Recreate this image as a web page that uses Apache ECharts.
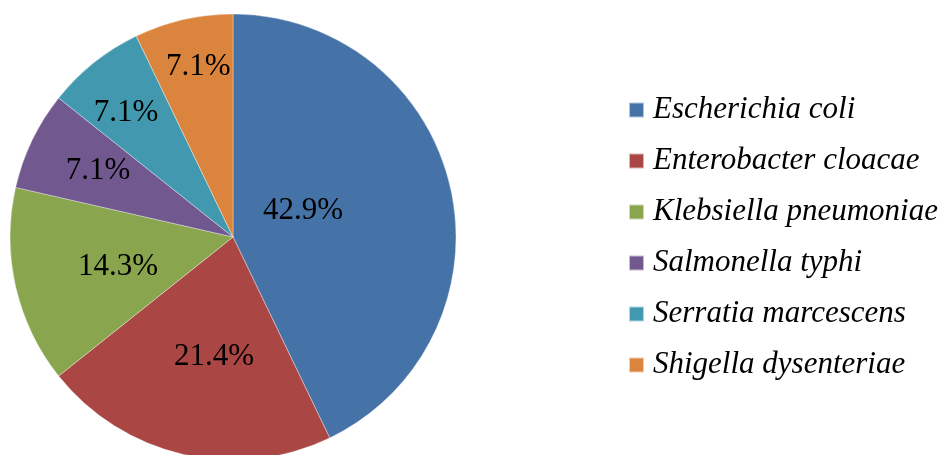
<!DOCTYPE html>
<html>
<head>
<meta charset="utf-8">
<script src="https://cdn.jsdelivr.net/npm/echarts@6/dist/echarts.min.js"></script>
<style>html,body{margin:0;padding:0;background:#fff;}#c{width:947px;height:455px;}</style>
</head>
<body>
<div id="c"></div>
<script>
var categories = ['Escherichia coli','Enterobacter cloacae','Klebsiella pneumoniae','Salmonella typhi','Serratia marcescens','Shigella dysenteriae'];
var values = [6, 3, 2, 1, 1, 1];
var colors = ['#4572A7','#AA4643','#89A54E','#71588F','#4198AF','#DB843D'];

var CX = 233, CY = 237, R = 223;
// label placement (layout only): radial fraction and angular shift (deg) from slice middle
var labelFrac = [0.335, 0.545, 0.533, 0.674, 0.735, 0.778];
var labelShift = [-7.5, -3.9, -1.7, 0.4, -2.2, 1.3];
var total = values.reduce(function(a,b){return a+b;},0);
var SERIF = "'Liberation Serif', 'Times New Roman', serif";

var chart = echarts.init(document.getElementById('c'));
chart.setOption({
  animation: false,
  color: colors,
  textStyle: { fontFamily: SERIF },
  legend: {
    orient: 'vertical',
    left: 623,
    top: 88,
    itemWidth: 15,
    itemHeight: 15,
    itemGap: 17,
    icon: 'rect',
    selectedMode: false,
    textStyle: {
      fontFamily: SERIF,
      fontStyle: 'italic',
      fontSize: 31,
      lineHeight: 34,
      color: '#000',
      padding: [0,0,0,4]
    },
    data: categories
  },
  series: [{
    type: 'pie',
    center: [CX, CY],
    radius: R,
    startAngle: 90,
    clockwise: true,
    silent: true,
    itemStyle: { borderColor: 'rgba(255,255,255,0.6)', borderWidth: 0.6 },
    label: {
      show: true,
      position: 'inside',
      fontFamily: SERIF,
      fontSize: 31,
      color: '#000',
      formatter: function(p){ return p.percent.toFixed(1) + '%'; }
    },
    labelLine: { show: false },
    labelLayout: function(p){
      var i = p.dataIndex, before = 0;
      for (var k = 0; k < i; k++) before += values[k];
      var mid = (before + values[i] / 2) / total * 2 * Math.PI + labelShift[i] * Math.PI / 180;
      var f = labelFrac[i] * R;
      return { x: CX + f * Math.sin(mid), y: CY - f * Math.cos(mid), align: 'center', verticalAlign: 'middle' };
    },
    data: categories.map(function(n, i){ return { name: n, value: values[i] }; })
  }]
});
</script>
</body>
</html>
